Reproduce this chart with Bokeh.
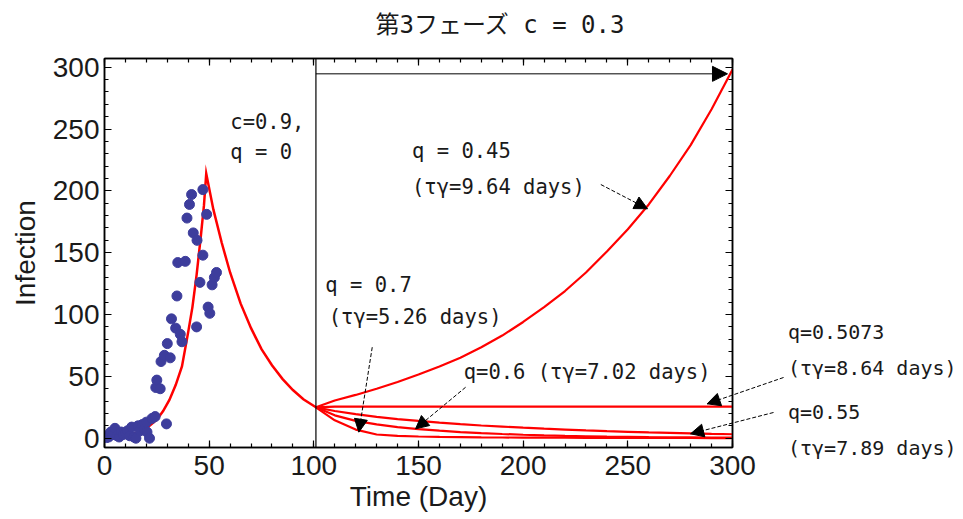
from bokeh.plotting import figure
from bokeh.models import (Range1d, LinearAxis, SingleIntervalTicker, Span, Label,
                          Arrow, NormalHead, CustomJSTickFormatter)
from bokeh.core.properties import value
from bokeh.embed import file_html
from bokeh.resources import INLINE

# ---------------- data ----------------
# observed infections (blue dots)
obs_day = [0, 1, 2, 3, 4, 5, 6, 7, 8, 9, 10, 11, 12, 13, 14, 15, 16, 17, 18, 19, 20,
           20.3, 21.5, 22.7, 24.2, 24.5, 25, 26.6, 27, 28.6, 29.6, 30, 31.4, 32, 34,
           34.6, 35, 36.2, 37, 38.6, 39.4, 40.6, 41.6, 42.4, 44, 44.2, 45.6, 47, 47,
           48.8, 49.5, 50.3, 51.4, 52.5, 53.5]
obs_inf = [2, 0.5, 1, 5, 3, 8, 2, 1, 5, 3, 4, 6, 2, 9, 1, 0, 10, 6, 11, 7, 13,
           5, 0, 16, 17.5, 41, 47, 40, 62, 67, 11.6, 76.5, 65, 96.5, 89,
           115, 142, 84, 78, 143, 178, 189, 197, 166, 90, 160, 126, 201, 148,
           181, 106, 101, 124, 130, 134]

# model: phase 1 (growth) and phase 2 (c=0.9, q=0)
t_rise = [0, 5, 10, 15, 20, 25, 28, 31, 34, 37, 40, 42, 44, 46, 47.5, 48.6]
y_rise = [1.5, 2, 2.8, 4.3, 8, 15, 22, 31, 43, 58, 86, 106, 132, 163, 188, 214]
t_decay = [48.6, 52, 56, 60, 65, 70, 75, 80, 85, 90, 95, 101]
y_decay = [214, 185, 158, 134, 109, 89, 72, 59, 48, 39, 31.5, 25]

# phase 3 (c = 0.3), branches by q
phase3_start = 101
t_phase3 = [101, 110, 120, 130, 140, 150, 160, 170, 180, 190, 200, 210, 220, 230, 240,
            250, 260, 270, 280, 290, 300]
y_q045 = [25, 30.5, 35, 40, 45.5, 51.5, 58, 65, 73.5, 83, 94, 106, 119, 134, 151,
          169, 189, 212, 237, 266, 298]
y_q05073 = [25, 25.5, 25.5, 25.5, 25.5, 25.5, 25.5, 25.5, 25.5, 25.5, 25.5, 25.5, 25.5,
            25.5, 25.5, 25.5, 25.5, 25.5, 25.5, 25.5, 25.5]
y_q055 = [25, 22, 19.5, 17.3, 15.5, 14, 12.6, 11.4, 10.3, 9.4, 8.5, 7.7, 7, 6.3, 5.7,
          5.2, 4.7, 4.3, 3.9, 3.5, 3.2]
y_q06 = [25, 18.5, 14, 11.2, 9, 7.4, 6.1, 5, 4.1, 3.4, 2.8, 2.3, 1.9, 1.6, 1.3,
         1.1, 0.9, 0.8, 0.7, 0.6, 0.5]
y_q07 = [25, 14.5, 7, 3, 1.9, 1.4, 1.1, 0.9, 0.7, 0.6, 0.5, 0.45, 0.4, 0.35, 0.3,
         0.3, 0.25, 0.2, 0.2, 0.15, 0.15]
branches = [y_q045, y_q05073, y_q055, y_q06, y_q07]

x_ticks_interval = 50
y_ticks_interval = 50

# ---------------- figure ----------------
TICK_FONT = "Liberation Sans"
ANN_FONT = "DejaVu Sans Mono"
TITLE_FONT = "'DejaVu Sans Mono', 'Noto Sans CJK JP'"
RED = "#ff0000"
INK = "#1a1a1a"

p = figure(width=963, height=519,
           x_range=Range1d(0, 300), y_range=Range1d(-7.5, 307),
           output_backend="svg", toolbar_location=None,
           min_border_left=104, min_border_right=231,
           min_border_top=58, min_border_bottom=72)
p.xgrid.visible = False
p.ygrid.visible = False
p.outline_line_color = "black"
p.outline_line_width = 1.5
p.background_fill_color = "white"
p.border_fill_color = "white"

def style_axis(ax, interval, labels=True):
    ax.ticker = SingleIntervalTicker(interval=interval, num_minor_ticks=5)
    ax.major_tick_in = 7
    ax.major_tick_out = 0
    ax.minor_tick_in = 4
    ax.minor_tick_out = 0
    ax.axis_line_color = "black"
    ax.axis_line_width = 1.5
    ax.major_tick_line_color = "black"
    ax.minor_tick_line_color = "black"
    ax.major_tick_line_width = 1.2
    ax.minor_tick_line_width = 1.2
    if labels:
        ax.major_label_text_font = TICK_FONT
        ax.major_label_text_font_size = "28px"
        ax.major_label_text_color = INK
        ax.axis_label_text_font = TICK_FONT
        ax.axis_label_text_font_size = "28px"
        ax.axis_label_text_font_style = "normal"
        ax.axis_label_text_color = INK
    else:
        ax.formatter = CustomJSTickFormatter(code="return ''")
        ax.major_label_standoff = 0

style_axis(p.xaxis[0], x_ticks_interval)
style_axis(p.yaxis[0], y_ticks_interval)
p.xaxis[0].axis_label = "Time (Day)"
p.xaxis[0].major_label_standoff = 8
p.xaxis[0].axis_label_standoff = 3
p.yaxis[0].axis_label = "Infection"
p.yaxis[0].major_label_standoff = 5
p.yaxis[0].axis_label_standoff = 9

top_ax = LinearAxis()
style_axis(top_ax, x_ticks_interval, labels=False)
p.add_layout(top_ax, "above")
right_ax = LinearAxis()
style_axis(right_ax, y_ticks_interval, labels=False)
p.add_layout(right_ax, "right")

# phase boundary
p.add_layout(Span(location=phase3_start, dimension="height",
                  line_color="black", line_width=1.2))

# model curves
p.line(t_rise + t_decay[1:], y_rise + y_decay[1:], line_color=RED, line_width=2.5,
       line_join="miter")
for ys in branches:
    p.line(t_phase3, ys, line_color=RED, line_width=2.2)

# observed data
p.scatter(obs_day, obs_inf, size=10, fill_color="#3d3d9c", line_color="#3d3d9c")

# ---------------- annotations ----------------
def lab(x, y, text, size="20.5px"):
    p.add_layout(Label(x=x, y=y, text=text, text_font=ANN_FONT, text_font_size=size,
                       text_baseline="middle", text_align="left", text_color=INK))

lab(60.1, 255.5, "c=0.9,")
lab(60.1, 231.3, "q = 0")
lab(146.9, 232.6, "q = 0.45")
lab(146.9, 203.0, "(τγ=9.64 days)")
lab(105.5, 123.5, "q = 0.7")
lab(107.1, 97.8, "(τγ=5.26 days)")
lab(171.6, 53.4, "q=0.6 (τγ=7.02 days)")

# texts outside the frame: glyphs on the overlay level (not clipped to the frame)
p.text(x=[326.5, 326.5, 326.5, 326.5], y=[85.5, 56.4, 20.8, -8.3],
       text=["q=0.5073", "(τγ=8.64 days)", "q=0.55", "(τγ=7.89 days)"],
       text_font=value(ANN_FONT), text_font_size=value("20px"),
       text_baseline="middle", text_align="left", text_color=INK, level="overlay")
p.text(x=[189.2], y=[333.7], text=["第3フェーズ c = 0.3"],
       text_font=value(TITLE_FONT), text_font_size=value("24px"),
       text_baseline="middle", text_align="center", text_color=INK, level="overlay")

def arrow(x0, y0, x1, y1, dash="4 2", size=13, outside=False):
    p.add_layout(Arrow(end=NormalHead(size=size, fill_color="black", line_color="black"),
                       x_start=x0, y_start=y0, x_end=x1, y_end=y1,
                       line_color="black", line_width=1, line_dash=dash,
                       line_alpha=0 if outside else 1))
    if outside:
        p.segment(x0=[x0], y0=[y0], x1=[x1], y1=[y1], line_color="black",
                  line_width=1, line_dash=dash, level="overlay")

arrow(phase3_start, 294.6, 297.6, 294.6, dash="solid", size=15)
arrow(237.1, 205.1, 259.4, 185.5)
arrow(127.9, 73.6, 121.5, 4.9)
arrow(172.5, 41.2, 148.6, 7.6)
arrow(324.4, 49.1, 287.9, 27.8, outside=True)
arrow(319.6, 20.8, 280.0, 3.6, outside=True)

open("out.html", "w").write(file_html(p, INLINE))
